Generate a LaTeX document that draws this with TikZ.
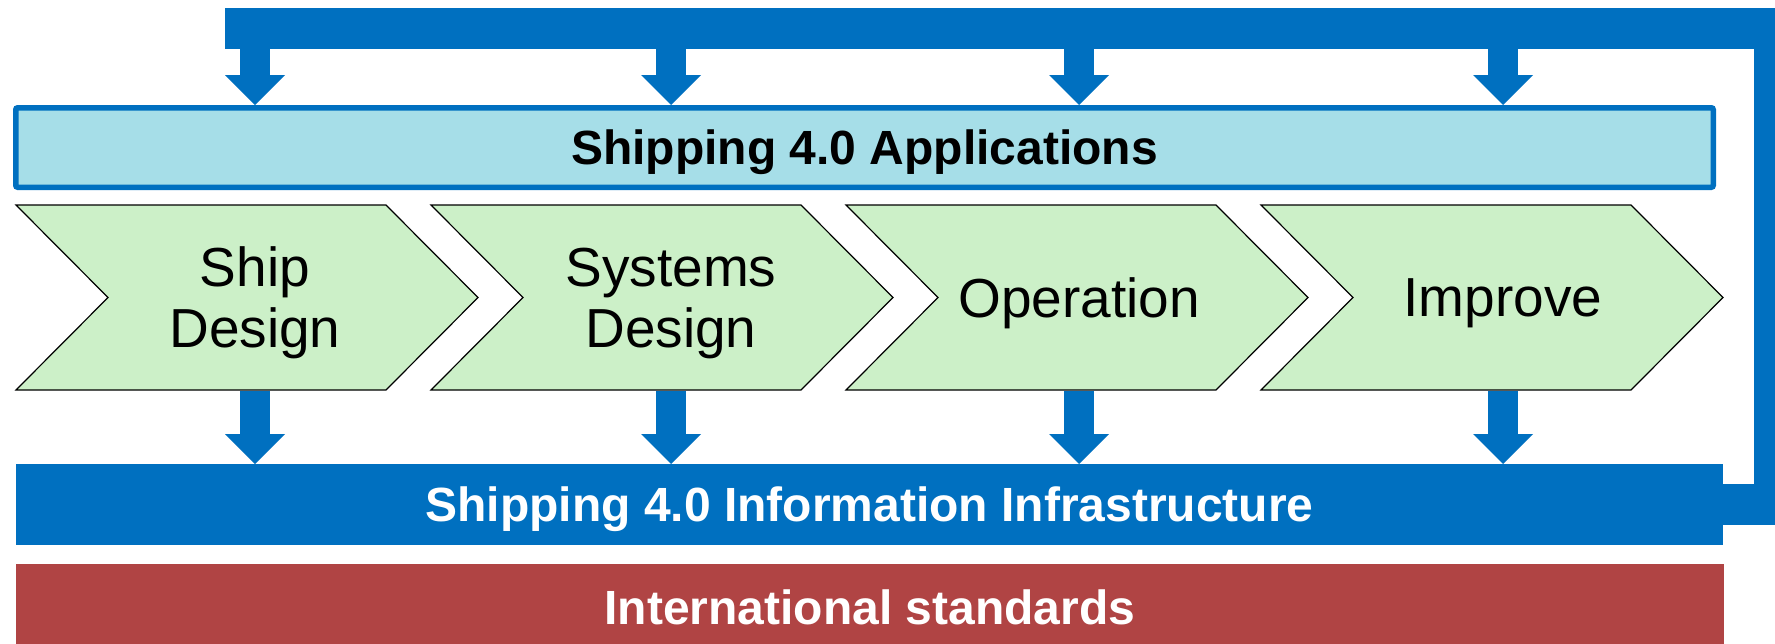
\documentclass[tikz,border=0pt]{standalone}
\usepackage{fontspec}
\setmainfont{Liberation Sans}
\usetikzlibrary{arrows.meta}
\definecolor{sblue}{RGB}{0,112,192}
\definecolor{appfill}{RGB}{166,222,232}
\definecolor{chevfill}{RGB}{204,240,200}
\definecolor{stdred}{RGB}{176,68,68}
\newcommand\chevshape[1]{\filldraw[chev] (#1,205) -- ++(370,0) -- ++(92,92.5) -- ++(-92,92.5) -- ++(-370,0) -- ++(92,-92.5) -- cycle;}
\begin{document}
\begin{tikzpicture}[x=1pt,y=-1pt,
  bartext/.style={font=\fontsize{48}{56}\selectfont\bfseries, text depth=0pt},
  chevtext/.style={font=\fontsize{55}{61}\selectfont, align=center, text=black, text depth=0pt},
  chev/.style={fill=chevfill, draw=black, line width=1.2pt, line join=miter},
  blockarrow/.style={draw=sblue, line width=30pt, -{Triangle[length=30pt,width=60pt,line width=0pt]}},
  loopbar/.style={draw=sblue, line width=41pt, line join=miter},
  appbox/.style={draw=sblue, fill=appfill, line width=5.5pt, rounded corners=2pt, inner sep=0pt, minimum width=1697.5pt, minimum height=79.5pt},
  flatbar/.style={inner sep=0pt, outer sep=0pt, text=white, bartext}]
\useasboundingbox (0,0) rectangle (1775,643);
\fill[white] (0,0) rectangle (1775,643);

% bars
\node[appbox, bartext, text=black] (apps) at (864.5,147.5) {Shipping 4.0 Applications};
\node[flatbar, fill=sblue, minimum width=1707pt, minimum height=81pt] (infra) at (869.5,504.5) {Shipping 4.0 Information Infrastructure};
\node[flatbar, fill=stdred, minimum width=1708pt, minimum height=87pt] (std) at (870,607.5) {International standards};

% feedback loop
\draw[loopbar] (infra.east) -| (1774.5,28.5) -- (225,28.5);

% chevrons
\chevshape{16}
\chevshape{431}
\chevshape{846}
\chevshape{1261}
\node[chevtext] (ship) at (255,297.5) {Ship\\Design};
\node[chevtext] (sys) at (671,297.5) {Systems\\Design};
\node[chevtext] (op) at (1079,297.5) {Operation};
\node[chevtext] (imp) at (1503,297.5) {Improve};

% arrows
\coordinate (tb) at (0,49);
\coordinate (cb) at (0,390.6);
\foreach \n in {ship,sys,op,imp}{
  \draw[blockarrow] (\n |- tb) -- (\n |- apps.north);
  \draw[blockarrow] (\n |- cb) -- (\n |- infra.north);
}
\end{tikzpicture}
\end{document}
